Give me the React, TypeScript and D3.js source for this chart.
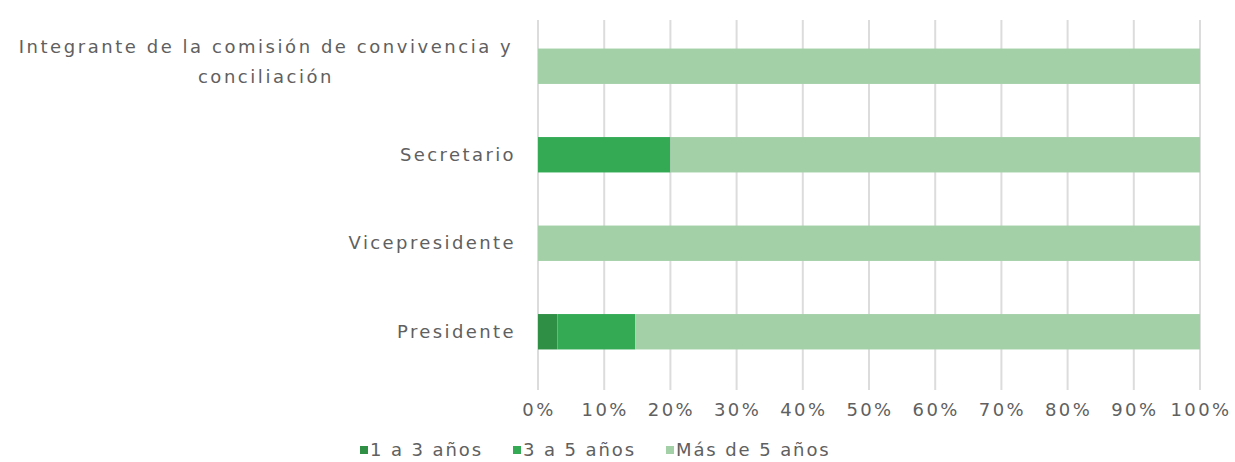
import React from "react";
import * as d3 from "d3";

const categories = [
  "Integrante de la comisión de convivencia y conciliación",
  "Secretario",
  "Vicepresidente",
  "Presidente",
];
const categoryLines = [
  ["Integrante de la comisión de convivencia y", "conciliación"],
  ["Secretario"],
  ["Vicepresidente"],
  ["Presidente"],
];
const seriesNames = ["1 a 3 años", "3 a 5 años", "Más de 5 años"];
const s1a3 = [0, 0, 0, 2.94];
const s3a5 = [0, 20, 0, 11.76];
const sMas5 = [100, 80, 100, 85.3];
const colors = ["#2f8f45", "#34aa55", "#a4d0a8"];
const ticks = [0, 10, 20, 30, 40, 50, 60, 70, 80, 90, 100];

export default function App() {
  const W = 1235, H = 462;
  const x = d3.scaleLinear().domain([0, 100]).range([538, 1200]);
  const y = d3.scaleBand().domain(categories).range([22, 376]).paddingInner(0.6).paddingOuter(0.3);
  const series = [s1a3, s3a5, sMas5];
  const font = "'DejaVu Sans', sans-serif";
  const txt = "#606060";
  const legendX = [360, 513, 666];
  const fs = 18;
  return (
    <svg width={W} height={H} style={{ position: "absolute", left: 0, top: 0, background: "#fff" }}>
      {ticks.map((t) => (
        <line key={t} x1={x(t)} x2={x(t)} y1={20} y2={390} stroke="#dcdcdc" strokeWidth={2} />
      ))}
      {categories.map((c, i) => {
        let acc = 0;
        return series.map((s, k) => {
          const x0 = acc;
          acc += s[i];
          if (s[i] <= 0) return null;
          return (
            <rect key={c + k} x={x(x0)} y={y(c)!} width={x(acc) - x(x0)} height={y.bandwidth()} fill={colors[k]} />
          );
        });
      })}
      {categories.map((c, i) => {
        const lines = categoryLines[i];
        const cy = y(c)! + y.bandwidth() / 2;
        if (lines.length > 1) {
          return (
            <text key={c} textAnchor="middle" fontFamily={font} fontSize={fs} fill={txt} letterSpacing={2.55}>
              {lines.map((l, j) => (
                <tspan key={j} x={266} y={cy - 19 + j * 30 + 6}>{l}</tspan>
              ))}
            </text>
          );
        }
        return (
          <text key={c} x={516} y={cy + 6} textAnchor="end" fontFamily={font} fontSize={fs} fill={txt} letterSpacing={2.4}>
            {lines[0]}
          </text>
        );
      })}
      {ticks.map((t) => (
        <text key={t} x={x(t) + 1} y={416} textAnchor="middle" fontFamily={font} fontSize={fs} fill={txt} letterSpacing={2.4}>
          {t}%
        </text>
      ))}
      {seriesNames.map((n, k) => (
        <g key={n}>
          <rect x={legendX[k]} y={446} width={8} height={8} fill={colors[k]} />
          <text x={legendX[k] + 10} y={456} fontFamily={font} fontSize={fs} fill={txt} letterSpacing={1.9}>
            {n}
          </text>
        </g>
      ))}
    </svg>
  );
}
